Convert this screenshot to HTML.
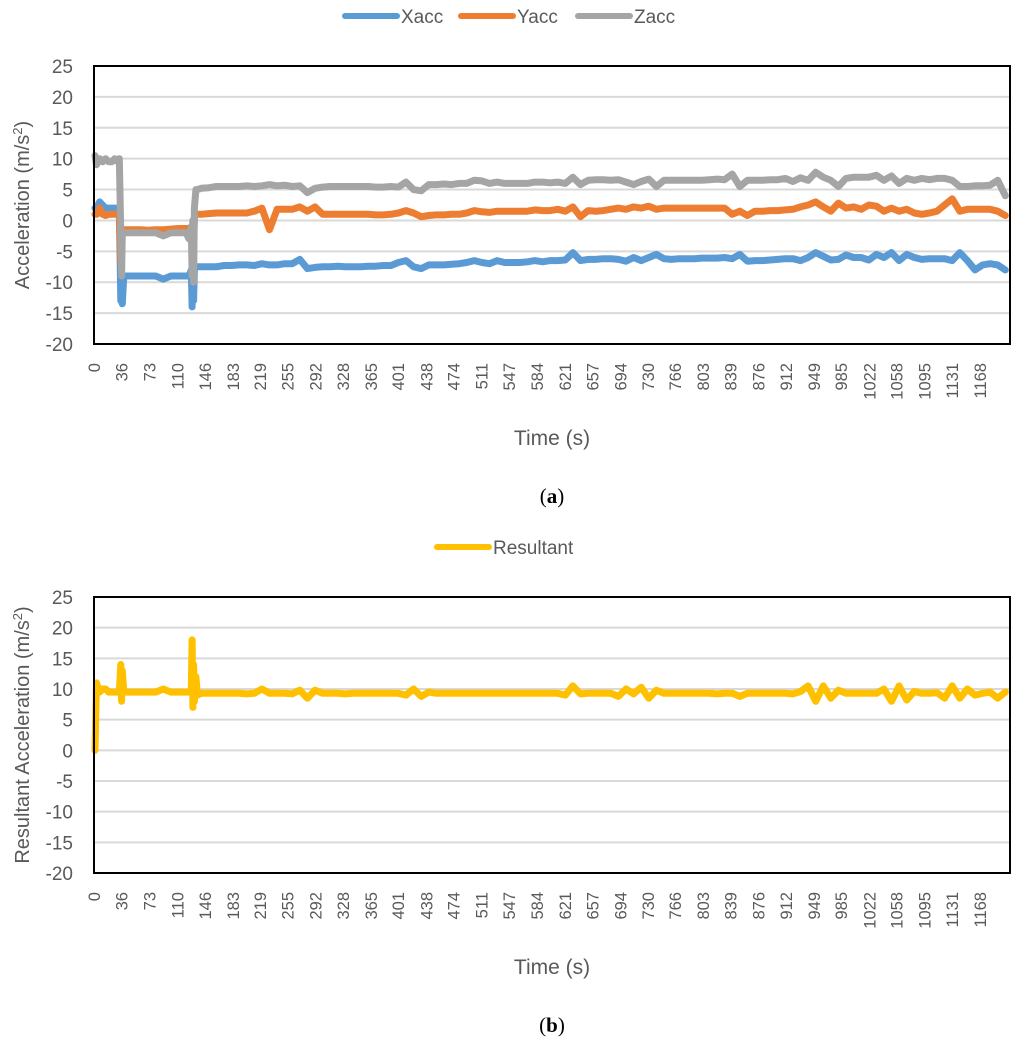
<!DOCTYPE html>
<html><head><meta charset="utf-8"><style>
body{margin:0;background:#fff;}
svg{display:block;font-family:"Liberation Sans",sans-serif;}
</style></head><body>
<svg id="root" width="1024" height="1051" viewBox="0 0 1024 1051"></svg>
<script>
const times=[0,2,6,10,14,18,22,26,30,32,34,35,36,38,42,50,60,70,80,90,100,110,120,124,127,128,129,130,131,133,135,140,
150,160,170,180,190,200,210,220,230,240,250,260,270,280,290,300,310,320,330,340,350,360,370,380,390,400,410,420,430,440,
450,460,470,480,490,500,510,520,530,540,550,560,570,580,590,600,610,620,630,640,650,660,670,680,690,700,710,720,730,740,
750,760,770,780,790,800,810,820,830,840,850,860,870,880,890,900,910,920,930,940,950,960,970,980,990,1000,1010,1020,1030,1040,
1050,1060,1070,1080,1090,1100,1110,1120,1130,1140,1150,1160,1170,1180,1190,1200];
const xacc=[2,2,3,2.5,2,2,2,2,2,2,-13,-9,-13.5,-9,-9,-9,-9,-9,-9,-9.5,-9,-9,-9,-9,-8,-14,-9,-13,-8,-7.5,-7.5,-7.5,
-7.5,-7.5,-7.3,-7.3,-7.2,-7.2,-7.3,-7,-7.2,-7.2,-7,-7,-6.3,-7.8,-7.6,-7.5,-7.5,-7.4,-7.5,-7.5,-7.5,-7.4,-7.4,-7.3,-7.3,-6.8,-6.5,-7.5,-7.8,-7.2,
-7.2,-7.2,-7.1,-7,-6.8,-6.5,-6.8,-7,-6.5,-6.8,-6.8,-6.8,-6.7,-6.5,-6.7,-6.5,-6.5,-6.4,-5.2,-6.5,-6.3,-6.3,-6.2,-6.2,-6.3,-6.6,-6,-6.5,-6,-5.5,
-6.2,-6.3,-6.2,-6.2,-6.2,-6.1,-6.1,-6.1,-6,-6.2,-5.5,-6.6,-6.5,-6.5,-6.4,-6.3,-6.2,-6.2,-6.5,-6,-5.2,-5.8,-6.4,-6.3,-5.6,-6,-6,-6.4,-5.5,-6,
-5.2,-6.5,-5.5,-6,-6.3,-6.2,-6.2,-6.2,-6.5,-5.2,-6.5,-8,-7.2,-7,-7.2,-8];
const yacc=[1,1,2,1,0.8,1,1,1,1,1,-7,-1.5,-2,-1.5,-1.5,-1.5,-1.5,-1.6,-1.5,-1.5,-1.4,-1.3,-1.3,-1.3,-1,-5,0,-3,0.5,1,1,1,
1.1,1.2,1.2,1.2,1.2,1.2,1.5,2,-1.5,1.8,1.8,1.8,2.2,1.5,2.2,1,1,1,1,1,1,1,0.9,0.9,1,1.2,1.6,1.2,0.6,0.8,
0.9,0.9,1,1,1.2,1.6,1.4,1.3,1.5,1.5,1.5,1.5,1.5,1.7,1.6,1.6,1.8,1.5,2.2,0.6,1.6,1.5,1.6,1.8,2,1.8,2.2,2,2.3,1.8,
2,2,2,2,2,2,2,2,2,1,1.5,0.8,1.5,1.5,1.6,1.6,1.7,1.8,2.2,2.5,3,2.2,1.5,2.8,2,2.2,1.8,2.5,2.3,1.5,
2,1.5,1.8,1.2,1,1.2,1.5,2.5,3.5,1.5,1.8,1.8,1.8,1.8,1.5,0.8];
const zacc=[10.5,9,10,9.5,10,9.5,9.5,10,9.5,10,-2,-9,-2,-2,-2,-2,-2,-2,-2,-2.5,-2,-2,-2,-3,-1,-9,0,-10,2,5,5,5.2,
5.3,5.5,5.5,5.5,5.5,5.6,5.5,5.6,5.8,5.6,5.7,5.5,5.6,4.5,5.2,5.4,5.5,5.5,5.5,5.5,5.5,5.5,5.4,5.4,5.5,5.4,6.2,5,4.8,5.8,
5.8,5.9,5.8,6,6,6.5,6.4,6,6.2,6,6,6,6,6.2,6.2,6.1,6.2,6,7,5.8,6.5,6.6,6.6,6.5,6.6,6.2,5.8,6.3,6.7,5.5,
6.5,6.5,6.5,6.5,6.5,6.5,6.6,6.7,6.6,7.5,5.5,6.5,6.5,6.5,6.6,6.6,6.8,6.3,6.9,6.5,7.8,7,6.5,5.5,6.8,7,7,7,7.3,6.5,
7.2,6,6.8,6.5,6.8,6.6,6.8,6.8,6.5,5.5,5.5,5.6,5.6,5.7,6.5,4];
const resultant=[0,11,9.5,10,10,9.5,9.5,9.5,9.5,9.5,14,8,13,9.5,9.5,9.5,9.5,9.5,9.5,10,9.5,9.5,9.5,9.5,10,18,7,14,8,12,9,9.3,
9.3,9.3,9.3,9.3,9.3,9.2,9.3,10,9.3,9.3,9.3,9.2,9.8,8.5,9.8,9.3,9.3,9.3,9.2,9.3,9.3,9.3,9.3,9.3,9.3,9.3,9,10,8.8,9.5,
9.3,9.3,9.3,9.3,9.3,9.3,9.3,9.3,9.3,9.3,9.3,9.3,9.3,9.3,9.3,9.3,9.3,9,10.5,9.2,9.3,9.3,9.3,9.3,8.8,10,9.2,10.3,8.5,9.8,
9.3,9.3,9.3,9.3,9.3,9.3,9.3,9.2,9.3,9.3,8.8,9.3,9.3,9.3,9.3,9.3,9.3,9.2,9.6,10.5,8,10.5,8.5,9.8,9.3,9.3,9.3,9.3,9.3,10,
8,10.5,8.2,9.6,9.3,9.3,9.4,8.5,10.5,8.5,10,9,9.3,9.5,8.5,9.5];
const xTicks=[0,36,73,110,146,183,219,255,292,328,365,401,438,474,511,547,584,621,657,694,730,766,803,839,876,912,949,985,1022,1058,1095,1131,1168];
const yTicks=[25,20,15,10,5,0,-5,-10,-15,-20];

const NS="http://www.w3.org/2000/svg";
const root=document.getElementById('root');
function mk(tag,attrs,parent,text){const e=document.createElementNS(NS,tag);for(const k in attrs)e.setAttribute(k,attrs[k]);if(text!==undefined)e.textContent=text;(parent||root).appendChild(e);return e;}
const L=94,R=1010;
const xs=t=>95+t*0.7586;

function chart(top,bottom,series,legend,ytitle,tag,idx){
  const g=mk('g',{});
  
  
  const ys=v=>top+(25-v)*(bottom-top)/45;
  yTicks.forEach(v=>{
    if(v!==25&&v!==-20){const gl=mk('line',{x1:L,x2:R,y1:ys(v),y2:ys(v),stroke:'#d9d9d9','stroke-width':2},g);
    
    }
    const t=mk('text',{x:73,y:ys(v)+7,'text-anchor':'end','font-size':19,fill:'#595959'},g,String(v));
    
    
  });
  series.forEach(s=>{
    const d=times.map((t,i)=>(i?'L':'M')+xs(t).toFixed(1)+','+ys(s.v[i]).toFixed(1)).join('');
    const p=mk('path',{d:d,fill:'none',stroke:s.c,'stroke-width':7,'stroke-linejoin':'round','stroke-linecap':'round'},g);
    
    
  });
  const fr=mk('rect',{x:L,y:top,width:R-L,height:bottom-top,fill:'none',stroke:'#000','stroke-width':2},g);
  
  
  xTicks.forEach(v=>{
    const x=xs(v)+5;const y=bottom+19;
    const t=mk('text',{x:x,y:y,transform:`rotate(-90 ${x} ${y})`,'text-anchor':'end','font-size':16.5,fill:'#595959'},g,String(v));
    
    
  });
  const xt=mk('text',{x:552,y:bottom+101,'text-anchor':'middle','font-size':21,fill:'#595959'},g,'Time (s)');
  
  
  const cy=(top+bottom)/2, cx=29;
  const yt=mk('text',{x:cx,y:cy,transform:`rotate(-90 ${cx} ${cy})`,'text-anchor':'middle','font-size':20,fill:'#595959'},g);
  
  
  yt.appendChild(document.createTextNode(ytitle+' (m/s'));
  mk('tspan',{dy:-7,'font-size':13},yt,'2');
  mk('tspan',{dy:7},yt,')');
  legend.forEach(l=>{
    const le=mk('g',{},g);
    
    
    mk('line',{x1:l.x,x2:l.x+52,y1:top-50,y2:top-50,stroke:l.c,'stroke-width':6,'stroke-linecap':'round'},le);
    mk('text',{x:l.x+56,y:top-43,'font-size':19,fill:'#595959'},le,l.n);
  });
  const tg=mk('text',{x:552,y:bottom+159,'text-anchor':'middle','font-size':21,fill:'#000','font-family':'"Liberation Serif",serif'},g);
  
  
  tg.appendChild(document.createTextNode('('));
  mk('tspan',{'font-weight':'bold'},tg,tag);
  tg.appendChild(document.createTextNode(')'));
}
chart(66,344,[{n:'Xacc',v:xacc,c:'#5b9bd5'},{n:'Yacc',v:yacc,c:'#ed7d31'},{n:'Zacc',v:zacc,c:'#a5a5a5'}],
  [{n:'Xacc',x:345,c:'#5b9bd5'},{n:'Yacc',x:461,c:'#ed7d31'},{n:'Zacc',x:578,c:'#a5a5a5'}],'Acceleration','a','a');
chart(597,873,[{n:'Resultant',v:resultant,c:'#ffc000'}],[{n:'Resultant',x:437,c:'#ffc000'}],'Resultant Acceleration','b','b');
</script>
</body></html>
